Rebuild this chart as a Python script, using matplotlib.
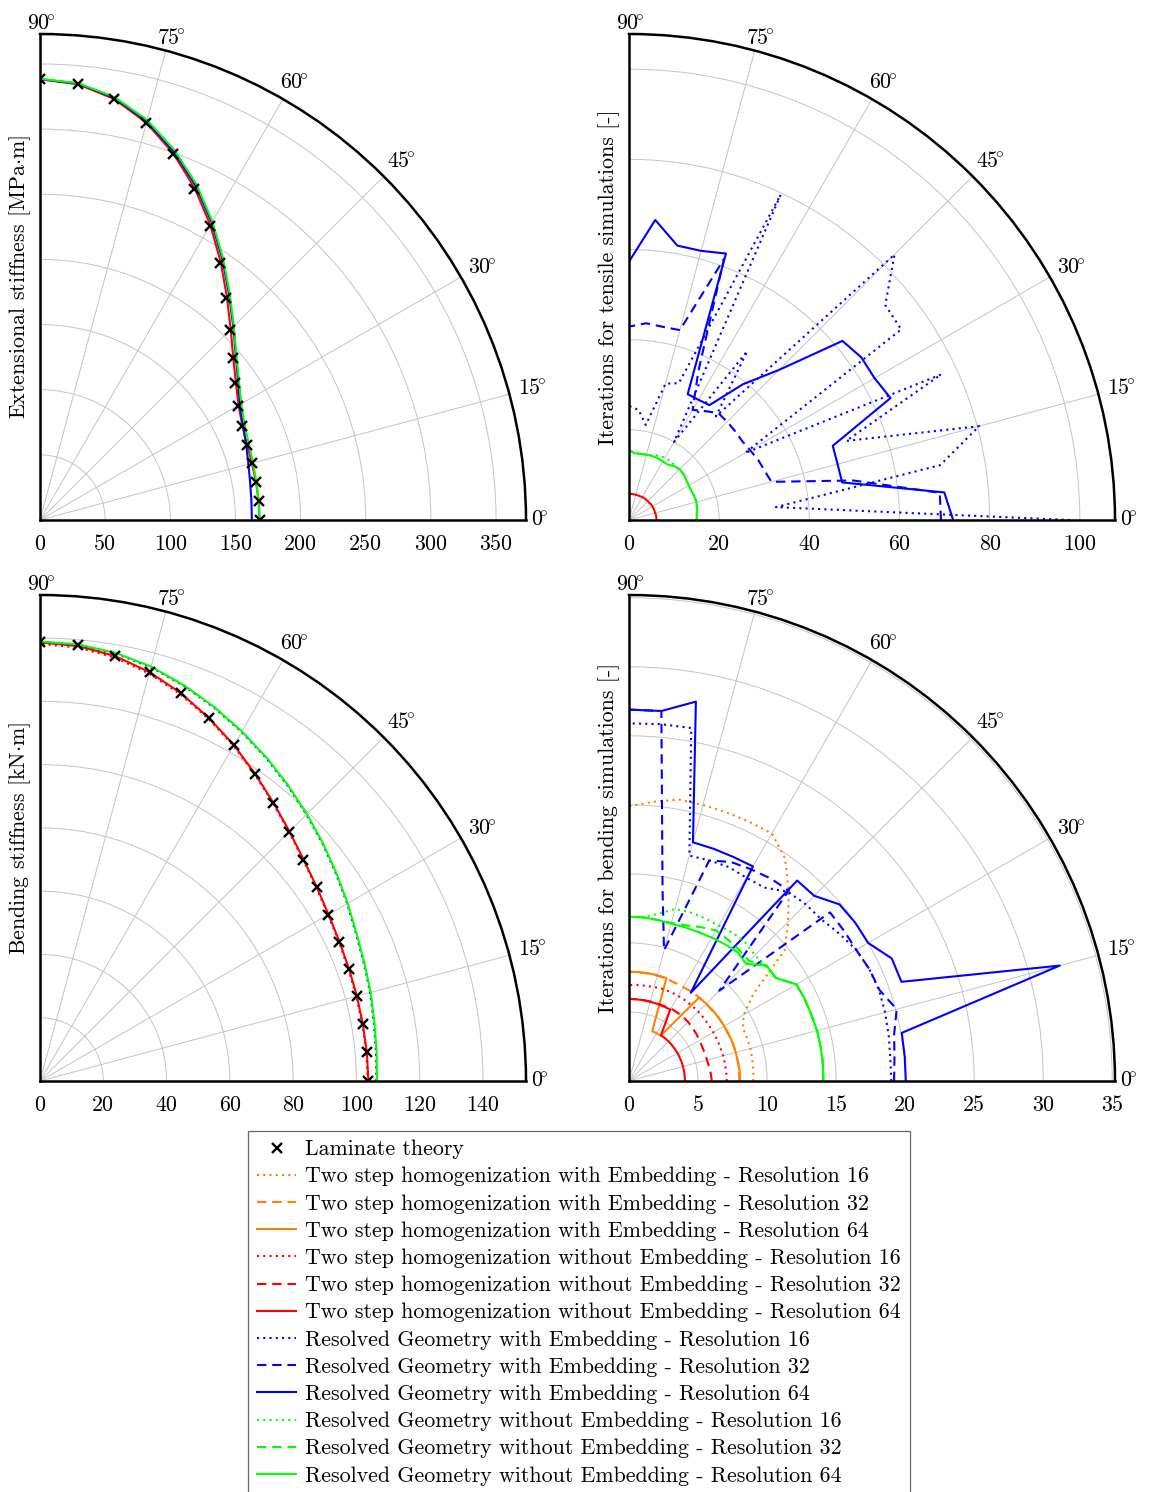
import numpy as np
import matplotlib
matplotlib.use('Agg')
import matplotlib.pyplot as plt

plt.rcParams['font.family'] = ['cmr10', 'DejaVu Serif']
plt.rcParams['mathtext.fontset'] = 'cm'
plt.rcParams['axes.unicode_minus'] = False
plt.rcParams['axes.formatter.use_mathtext'] = True

FS = 15.8

# ---------------- data (angle in degrees, value along radius) ----------------
angles = [0, 5, 10, 15, 20, 25, 30, 35, 40, 45, 50, 55, 60, 65, 70, 75, 80, 85, 90]

# extensional stiffness [MPa m]
lam_ext = [168.8, 168.6, 168.4, 168.2, 169.0, 170.8, 175.5, 182.9, 192.9, 206.2,
           222.3, 241.1, 260.6, 280.4, 298.9, 315.4, 328.0, 335.7, 338.2]
red_ext = [168.6, 168.5, 168.3, 168.4, 169.2, 171.3, 176.0, 183.5, 193.6, 207.0,
           223.2, 241.8, 261.4, 281.0, 299.3, 315.6, 328.1, 335.7, 338.2]
blue_ext = [162.6, 162.9, 163.8, 165.6, 168.4, 171.9, 177.3, 185.6, 196.2, 209.8,
            225.8, 244.2, 263.6, 283.0, 300.8, 316.7, 329.0, 336.2, 338.4]
green_ext = [168.3, 168.4, 168.6, 169.2, 170.6, 173.2, 178.4, 186.4, 196.8, 210.4,
             226.6, 245.0, 264.6, 284.2, 302.0, 317.8, 329.6, 336.5, 338.6]

# iterations, tensile simulations
red_tens_64 = [6.1, 6.1, 6.1, 6.0, 6.0, 6.0, 6.0, 6.0, 5.9, 5.9,
               5.9, 5.9, 5.9, 5.8, 5.8, 5.8, 5.8, 5.8, 5.8]
blue_tens_16 = [97.8, 32.7, 70.1, 80.4, 51.3, 76.4, 29.7, 73.7, 74.2, 83.3,
                30.0, 45.7, 20.0, 79.6, 32.3, 31.3, 21.4, 24.5, 25.3]
blue_tens_32 = [69.2, 69.2, 50.5, 32.7, 32.0, 31.6, 31.0, 30.6, 30.7, 30.8,
                30.9, 29.5, 28.2, 36.4, 61.6, 43.6, 43.5, 43.8, 42.9]
blue_tens_64 = [71.9, 70.2, 48.0, 47.9, 48.1, 64.0, 62.9, 62.9, 61.8, 47.1,
                39.3, 31.1, 30.8, 30.8, 62.9, 61.8, 61.8, 66.8, 57.3]
green_tens_16 = [15.0, 15.1, 15.3, 15.5, 15.4, 15.3, 15.3, 15.5, 15.8, 15.9,
                 15.8, 16.0, 15.9, 15.8, 15.3, 15.0, 14.9, 14.85, 15.5]
green_tens_64 = [15.0, 15.1, 15.3, 15.5, 15.4, 15.3, 15.3, 15.5, 15.8, 15.9,
                 15.6, 15.0, 15.0, 15.1, 15.1, 15.0, 14.9, 14.85, 15.5]

# bending stiffness [kN m]
lam_bend = [103.8, 103.7, 103.6, 103.6, 103.8, 104.3, 105.2, 106.7, 108.7, 111.4,
            114.7, 118.5, 122.6, 126.6, 130.5, 133.9, 136.5, 138.2, 138.8]
red_bend_16 = [103.6, 103.5, 103.4, 103.5, 103.7, 104.2, 105.1, 106.6, 108.6, 111.3,
               114.6, 118.3, 122.3, 126.2, 130.0, 133.3, 135.9, 137.5, 138.2]
red_bend_64 = [103.8, 103.7, 103.6, 103.7, 103.9, 104.4, 105.3, 106.8, 108.8, 111.5,
               114.8, 118.5, 122.6, 126.5, 130.4, 133.8, 136.4, 138.0, 138.6]
blue_bend = [106.3, 106.6, 107.1, 108.0, 108.9, 110.2, 112.1, 114.2, 116.6, 119.1,
             121.8, 124.6, 127.4, 130.2, 132.9, 135.4, 137.2, 138.3, 138.8]
green_bend = [106.5, 106.8, 107.3, 108.2, 109.1, 110.4, 112.3, 114.4, 116.8, 119.3,
              122.0, 124.8, 127.6, 130.4, 133.1, 135.6, 137.4, 138.5, 138.9]

# iterations, bending simulations
orange_bend_it_16 = [9.0, 9.05, 9.06, 9.1, 9.1, 9.1, 9.6, 11.0, 14.7, 16.3,
                     18.0, 19.7, 20.7, 20.7, 20.7, 20.7, 20.7, 20.3, 19.9]
orange_bend_it_32 = [8.0, 8.0, 8.0, 8.0, 8.0, 7.95, 7.95, 7.95, 7.9, 7.9,
                     7.9, 7.9, 7.85, 7.85, 7.9, 7.9, 7.9, 7.9, 7.9]
orange_bend_it_64 = [8.04, 8.04, 8.03, 8.0, 8.0, 7.98, 7.96, 7.95, 7.93, 7.92,
                     7.9, 4.0, 4.0, 3.98, 7.93, 7.93, 7.93, 7.92, 7.92]
red_bend_it_16 = [7.08, 7.07, 7.06, 7.05, 7.05, 7.05, 7.05, 7.06, 7.08, 7.1,
                  7.1, 7.12, 7.12, 7.12, 7.1, 7.05, 7.0, 6.98, 6.96]
red_bend_it_32 = [6.0, 5.95, 5.9, 5.85, 5.85, 5.85, 5.9, 5.95, 6.0, 6.05,
                  6.08, 6.07, 6.06, 6.0, 5.97, 5.96, 5.95, 5.95, 5.95]
red_bend_it_64 = [4.06, 4.05, 4.05, 4.05, 4.05, 4.05, 4.05, 4.05, 4.05, 4.05,
                  4.05, 4.03, 5.98, 5.95, 5.95, 5.94, 5.94, 5.94, 5.94]
blue_bend_it_16 = [19.0, 19.0, 19.1, 19.2, 19.27, 19.2, 19.0, 18.6, 18.2, 18.1,
                   17.9, 17.1, 17.0, 17.1, 17.0, 16.9, 25.96, 25.95, 25.9]
blue_bend_it_32 = [19.2, 19.3, 19.5, 20.07, 19.3, 19.2, 19.0, 19.0, 19.0, 9.25,
                   18.0, 17.9, 17.7, 17.5, 17.0, 9.8, 14.0, 26.9, 26.9]
blue_bend_it_64 = [20.05, 20.05, 20.06, 32.3, 21.0, 21.0, 20.0, 20.0, 19.9, 18.97,
                   18.95, 7.8, 17.95, 17.9, 17.9, 17.9, 27.9, 26.9, 26.9]
green_bend_it_16 = [14.08, 14.1, 14.1, 14.1, 14.05, 14.05, 14.0, 13.0, 12.9, 12.9,
                    13.1, 13.1, 13.0, 13.0, 13.0, 12.9, 12.3, 11.9, 11.9]
green_bend_it_32 = [14.08, 14.1, 14.1, 14.1, 14.05, 14.05, 14.0, 13.0, 13.0, 12.3,
                    12.4, 12.5, 12.6, 12.3, 12.0, 11.85, 11.85, 11.9, 11.9]
green_bend_it_64 = [14.08, 14.1, 14.1, 14.1, 14.05, 14.05, 14.0, 13.0, 13.0, 12.0,
                    12.2, 12.1, 12.0, 11.9, 11.85, 11.8, 11.85, 11.9, 11.9]

theta_ticks = [0, 15, 30, 45, 60, 75, 90]
rticks_tl = [0, 50, 100, 150, 200, 250, 300, 350]
rticks_tr = [0, 20, 40, 60, 80, 100]
rticks_bl = [0, 20, 40, 60, 80, 100, 120, 140]
rticks_br = [0, 5, 10, 15, 20, 25, 30, 35]

labels = [
    "Laminate theory",
    "Two step homogenization with Embedding - Resolution 16",
    "Two step homogenization with Embedding - Resolution 32",
    "Two step homogenization with Embedding - Resolution 64",
    "Two step homogenization without Embedding - Resolution 16",
    "Two step homogenization without Embedding - Resolution 32",
    "Two step homogenization without Embedding - Resolution 64",
    "Resolved Geometry with Embedding - Resolution 16",
    "Resolved Geometry with Embedding - Resolution 32",
    "Resolved Geometry with Embedding - Resolution 64",
    "Resolved Geometry without Embedding - Resolution 16",
    "Resolved Geometry without Embedding - Resolution 32",
    "Resolved Geometry without Embedding - Resolution 64",
]

# ---------------- styling ----------------
ORANGE = (1.0, 0.5, 0.0)
RED = (1.0, 0.0, 0.0)
BLUE = (0.0, 0.0, 1.0)
GREEN = (0.0, 1.0, 0.0)
LW = 1.5
DOT = (0, (1, 2.0))
DASH = (0, (4.5, 2.8))
SOLID = '-'

W, H = 1149, 1492
fig = plt.figure(figsize=(W / 100, H / 100), dpi=100)
PT = 0.72  # points per pixel


def make_ax(x0, y0, size, rmax, rticks, ylabel):
    ax = fig.add_axes([x0 / W, 1 - y0 / H, size / W, size / H], projection='polar')
    ax.set_thetamin(0)
    ax.set_thetamax(90)
    ax.set_rlim(0, rmax)
    ax.set_rticks(rticks)
    ax.set_yticklabels([])
    ax.set_thetagrids(theta_ticks, labels=[''] * len(theta_ticks))
    ax.grid(True, color='#c4c4c4', lw=0.7)
    ax.tick_params(axis='y', length=0)
    ax.tick_params(axis='x', direction='out', length=7, width=0.7, color='#c4c4c4')
    for s in ['polar', 'start', 'end']:
        ax.spines[s].set_linewidth(1.8)
        ax.spines[s].set_color('black')
    ax.spines['inner'].set_visible(False)
    # radial tick labels below the 0 deg axis
    for r in rticks:
        ax.annotate(f"{r}", xy=(0, r), xytext=(0, -14 * PT), textcoords='offset points',
                    ha='center', va='top', fontsize=FS, annotation_clip=False)
    # angular tick labels
    spec = {0: ('left', 'center', 5, 0), 15: ('left', 'center', 9, 6),
            30: ('left', 'bottom', 7, -1), 45: ('left', 'bottom', 3, 5),
            60: ('left', 'bottom', -3, 6), 75: ('center', 'bottom', 6, 3),
            90: ('center', 'bottom', 1, 0)}
    for a in theta_ticks:
        ha, va, dx, dy = spec[a]
        ax.annotate(f"$\\mathrm{{{a}}}\\!{{}}^{{\\circ}}$", xy=(np.deg2rad(a), rmax),
                    xytext=(dx * PT, dy * PT),
                    textcoords='offset points', ha=ha, va=va, fontsize=FS,
                    annotation_clip=False)
    ax.text(-20 / size, 0.5, ylabel, transform=ax.transAxes, rotation=90,
            ha='center', va='center', fontsize=FS)
    return ax


th = np.deg2rad(angles)

# ---------------- top left: extensional stiffness ----------------
ax1 = make_ax(40, 520, 486, 373, rticks_tl, "Extensional stiffness [MPa$\\cdot$m]")
ax1.plot(th, red_ext, color=RED, lw=LW, ls=SOLID)
ax1.plot(th, blue_ext, color=BLUE, lw=LW, ls=SOLID)
ax1.plot(th, green_ext, color=GREEN, lw=LW, ls=SOLID)
ax1.plot(th, lam_ext, ls='none', marker='x', ms=6.5, mew=1.7, color='black', zorder=5)

# ---------------- top right: tensile iterations ----------------
ax2 = make_ax(629, 520, 486, 107.8, rticks_tr, "Iterations for tensile simulations [-]")
ax2.plot(th, red_tens_64, color=RED, lw=LW, ls=SOLID)
ax2.plot(th, blue_tens_16, color=BLUE, lw=LW, ls=DOT)
ax2.plot(th, blue_tens_32, color=BLUE, lw=LW, ls=DASH)
ax2.plot(th, blue_tens_64, color=BLUE, lw=LW, ls=SOLID)
ax2.plot(th, green_tens_16, color=GREEN, lw=LW, ls=DOT)
ax2.plot(th, green_tens_64, color=GREEN, lw=LW, ls=SOLID)

# ---------------- bottom left: bending stiffness ----------------
ax3 = make_ax(40, 1081, 486, 153.6, rticks_bl, "Bending stiffness [kN$\\cdot$m]")
ax3.plot(th, red_bend_16, color=RED, lw=LW, ls=DOT)
ax3.plot(th, red_bend_64, color=RED, lw=LW, ls=SOLID)
ax3.plot(th, blue_bend, color=BLUE, lw=LW, ls=DOT)
ax3.plot(th, green_bend, color=GREEN, lw=LW, ls=SOLID)
lam_handle, = ax3.plot(th, lam_bend, ls='none', marker='x', ms=6.5, mew=1.7,
                       color='black', zorder=5)

# ---------------- bottom right: bending iterations ----------------
ax4 = make_ax(629, 1081, 486, 35.2, rticks_br, "Iterations for bending simulations [-]")
handles = [lam_handle]
series = [
    (orange_bend_it_16, ORANGE, DOT), (orange_bend_it_32, ORANGE, DASH),
    (orange_bend_it_64, ORANGE, SOLID),
    (red_bend_it_16, RED, DOT), (red_bend_it_32, RED, DASH), (red_bend_it_64, RED, SOLID),
    (blue_bend_it_16, BLUE, DOT), (blue_bend_it_32, BLUE, DASH), (blue_bend_it_64, BLUE, SOLID),
    (green_bend_it_16, GREEN, DOT), (green_bend_it_32, GREEN, DASH),
    (green_bend_it_64, GREEN, SOLID),
]
for vals, col, ls in series:
    h, = ax4.plot(th, vals, color=col, lw=LW, ls=ls)
    handles.append(h)

leg = fig.legend(handles, labels, loc='upper left', bbox_to_anchor=(248 / W, 1 - 1131 / H),
                 frameon=True, fancybox=False, edgecolor='#444444', fontsize=FS,
                 handlelength=1.8, handletextpad=0.4, borderpad=0.4, borderaxespad=0,
                 labelspacing=0.35, numpoints=1)
leg.get_frame().set_linewidth(0.9)

fig.savefig('out.png', dpi=100)
